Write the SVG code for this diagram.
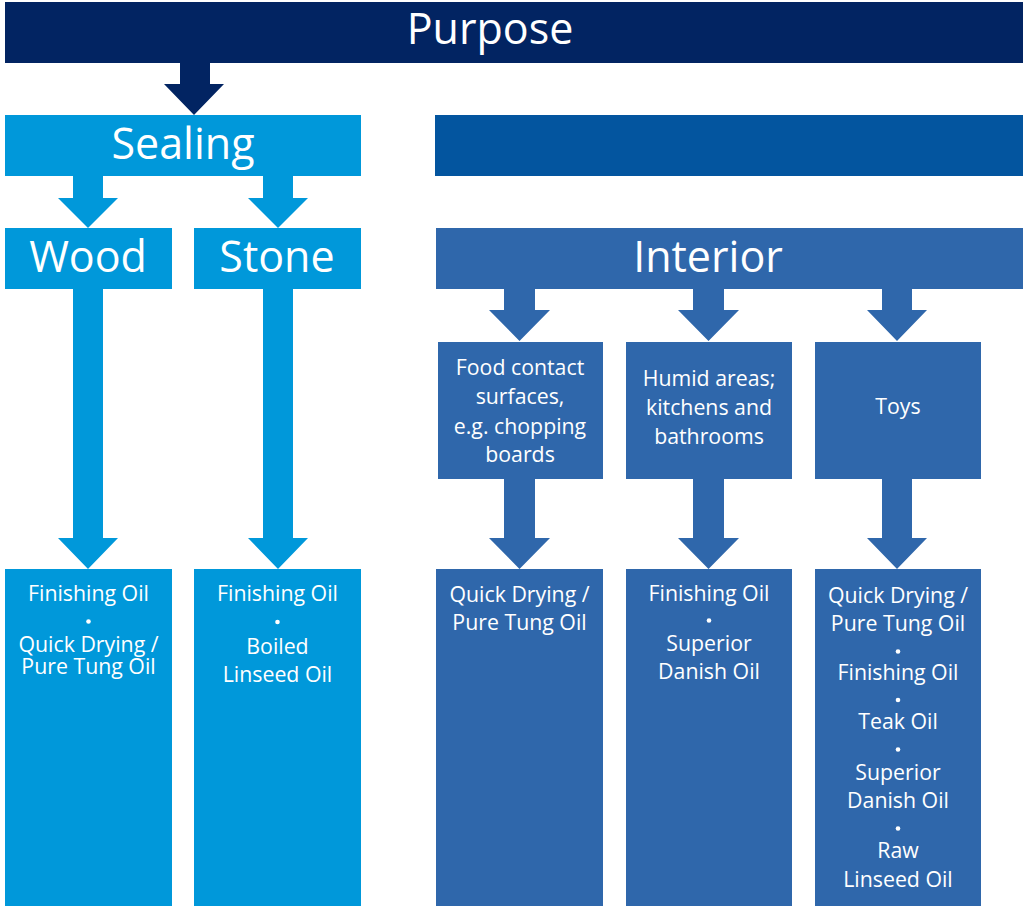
<svg xmlns="http://www.w3.org/2000/svg" width="1023" height="906" viewBox="0 0 1023 906">
<style>
.big{font-family:"Open Sans","Noto Sans",sans-serif;font-size:43px;fill:#fff;text-anchor:middle}
.sm{font-family:"Open Sans","Noto Sans",sans-serif;font-size:21.3px;fill:#fff;text-anchor:middle}
.bu{fill:#fff}
.navy{fill:#022462}
.light{fill:#0098DA}
.dark{fill:#03559F}
.mid{fill:#2F67AB}
</style>
<rect width="1023" height="906" fill="#fff"/>
<g id="connectors">
<polygon class="navy" points="180,62 210,62 210,84 224,84 194,115 164,84 180,84"/>
<polygon class="light" points="73,175 103,175 103,198 118,198 88,228 58,198 73,198"/>
<polygon class="light" points="263,175 293,175 293,198 308,198 278,228 248,198 263,198"/>
<polygon class="light" points="73,288 103,288 103,538 118,538 88,569 58,538 73,538"/>
<polygon class="light" points="263,288 293,288 293,538 308,538 278,569 248,538 263,538"/>
<polygon class="mid" points="504,288 535,288 535,310 550,310 519.5,341 489,310 504,310"/>
<polygon class="mid" points="693,288 724,288 724,310 739,310 708.5,341 678,310 693,310"/>
<polygon class="mid" points="882,288 912,288 912,310 927,310 897,341 867,310 882,310"/>
<polygon class="mid" points="504,478 535,478 535,538 550,538 519.5,569 489,538 504,538"/>
<polygon class="mid" points="693,478 724,478 724,538 739,538 708.5,569 678,538 693,538"/>
<polygon class="mid" points="882,478 912,478 912,538 927,538 897,569 867,538 882,538"/>
</g>
<g id="purpose"><rect class="navy" x="5" y="2" width="1018" height="61"/><text class="big" x="490" y="44">Purpose</text></g>
<g id="sealing"><rect class="light" x="5" y="115" width="356" height="61"/><text class="big" x="183" y="159">Sealing</text></g>
<g id="darkbar"><rect class="dark" x="435" y="115" width="588" height="61"/></g>
<g id="wood"><rect class="light" x="5" y="228" width="167" height="61"/><text class="big" x="88" y="272">Wood</text></g>
<g id="stone"><rect class="light" x="194" y="228" width="167" height="61"/><text class="big" x="277" y="272">Stone</text></g>
<g id="interior"><rect class="mid" x="436" y="228" width="587" height="61"/><text class="big" x="708" y="272">Interior</text></g>
<g id="food"><rect class="mid" x="438" y="342" width="165" height="137"/>
<text class="sm" x="520" y="375">Food contact</text><text class="sm" x="520" y="404">surfaces,</text><text class="sm" x="520" y="434">e.g. chopping</text><text class="sm" x="520" y="462">boards</text></g>
<g id="humid"><rect class="mid" x="626" y="342" width="166" height="137"/>
<text class="sm" x="709" y="386">Humid areas;</text><text class="sm" x="709" y="415">kitchens and</text><text class="sm" x="709" y="444">bathrooms</text></g>
<g id="toys"><rect class="mid" x="815" y="342" width="166" height="137"/><text class="sm" x="898" y="414">Toys</text></g>
<g id="wood-oils"><rect class="light" x="5" y="569" width="167" height="337"/>
<text class="sm" x="88.5" y="601">Finishing Oil</text><circle class="bu" cx="88.5" cy="621.5" r="2.3"/><text class="sm" x="88.5" y="652">Quick Drying /</text><text class="sm" x="88.5" y="674">Pure Tung Oil</text></g>
<g id="stone-oils"><rect class="light" x="194" y="569" width="167" height="337"/>
<text class="sm" x="277.5" y="601">Finishing Oil</text><circle class="bu" cx="277.5" cy="622" r="2.3"/><text class="sm" x="277.5" y="654">Boiled</text><text class="sm" x="277.5" y="682">Linseed Oil</text></g>
<g id="food-oils"><rect class="mid" x="436" y="569" width="167" height="337"/>
<text class="sm" x="519.5" y="602">Quick Drying /</text><text class="sm" x="519.5" y="630">Pure Tung Oil</text></g>
<g id="humid-oils"><rect class="mid" x="626" y="569" width="166" height="337"/>
<text class="sm" x="709" y="601">Finishing Oil</text><circle class="bu" cx="709" cy="620.5" r="2.3"/><text class="sm" x="709" y="651">Superior</text><text class="sm" x="709" y="679">Danish Oil</text></g>
<g id="toys-oils"><rect class="mid" x="815" y="569" width="166" height="337"/>
<text class="sm" x="898" y="603">Quick Drying /</text><text class="sm" x="898" y="631">Pure Tung Oil</text><circle class="bu" cx="898" cy="651.5" r="2.3"/>
<text class="sm" x="898" y="680">Finishing Oil</text><circle class="bu" cx="898" cy="700" r="2.3"/>
<text class="sm" x="898" y="729">Teak Oil</text><circle class="bu" cx="898" cy="749.5" r="2.3"/>
<text class="sm" x="898" y="780">Superior</text><text class="sm" x="898" y="808">Danish Oil</text><circle class="bu" cx="898" cy="828.5" r="2.3"/>
<text class="sm" x="898" y="858">Raw</text><text class="sm" x="898" y="887">Linseed Oil</text></g>
</svg>
